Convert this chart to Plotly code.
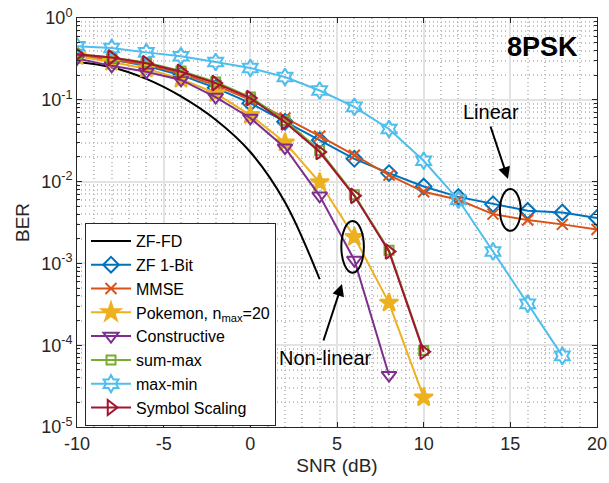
import plotly.graph_objects as go

snr = [-10, -8, -6, -4, -2, 0, 2, 4, 6, 8, 10, 12, 14, 16, 18, 20]

zf_fd_snr = [-10, -8, -6, -4, -2, 0, 2, 4]
zf_fd = [0.29, 0.25, 0.18, 0.11, 0.057, 0.023, 0.0056, 0.00064]

zf_1bit = [0.35, 0.31, 0.26, 0.20, 0.14, 0.091, 0.054, 0.032, 0.019, 0.0127,
           0.0087, 0.0065, 0.0053, 0.0044, 0.0042, 0.0036]
mmse = [0.35, 0.31, 0.27, 0.21, 0.15, 0.10, 0.060, 0.036, 0.021, 0.012,
        0.0075, 0.0060, 0.0040, 0.0034, 0.0030, 0.0026]

pok_snr = [-10, -8, -6, -4, -2, 0, 2, 4, 6, 8, 10]
pokemon = [0.34, 0.29, 0.24, 0.18, 0.12, 0.065, 0.030, 0.0098, 0.0021, 0.00033, 0.000023]

cons_snr = [-10, -8, -6, -4, -2, 0, 2, 4, 6, 8]
constructive = [0.32, 0.26, 0.22, 0.175, 0.108, 0.06, 0.026, 0.0067, 0.0011, 0.000043]

ss_snr = [-10, -8, -6, -4, -2, 0, 2, 4, 6, 8, 10]
sum_max = [0.36, 0.33, 0.285, 0.225, 0.165, 0.108, 0.056, 0.024, 0.0069, 0.00145, 0.000086]
symbol_scaling = [0.36, 0.33, 0.28, 0.22, 0.16, 0.105, 0.053, 0.023, 0.0067, 0.0014, 0.000083]

mm_snr = [-10, -8, -6, -4, -2, 0, 2, 4, 6, 8, 10, 12, 14, 16, 18]
max_min = [0.45, 0.43, 0.38, 0.34, 0.29, 0.245, 0.19, 0.13, 0.082, 0.044,
           0.018, 0.006, 0.0014, 0.00032, 0.000074]

ytick_vals = [1e-5, 1e-4, 1e-3, 1e-2, 1e-1, 1]
ytick_text = ["10<sup>-5</sup>", "10<sup>-4</sup>", "10<sup>-3</sup>",
              "10<sup>-2</sup>", "10<sup>-1</sup>", "10<sup>0</sup>"]
xtick_vals = [-10, -5, 0, 5, 10, 15, 20]
xtick_text = ["-10", "-5", "0", "5", "10", "15", "20"]

FONT = "Liberation Sans, Arial, sans-serif"
LW = 2

fig = go.Figure()

def add(x, y, name, color, symbol=None, size=11, shape="linear"):
    mode = "lines" if symbol is None else "lines+markers"
    marker = None
    if symbol is not None:
        marker = dict(symbol=symbol, size=size, color=color,
                      line=dict(color=color, width=2))
    fig.add_trace(go.Scatter(x=x, y=y, name=name, mode=mode,
                             line=dict(color=color, width=LW, shape=shape),
                             marker=marker))

add(zf_fd_snr, zf_fd, "ZF-FD", "#000000", shape="spline")
add(snr, zf_1bit, "ZF 1-Bit", "#0072BD", "diamond-open", 12)
add(snr, mmse, "MMSE", "#D95319", "x-thin-open", 11)
add(pok_snr, pokemon, "Pokemon, n<sub>max</sub>=20", "#EDB120", "star", 14)
add(cons_snr, constructive, "Constructive", "#7E2F8E", "triangle-down-open", 13)
add(ss_snr, sum_max, "sum-max", "#77AC30", "square-open", 9)
add(mm_snr, max_min, "max-min", "#4DBEEE", "hexagram-open", 13)
add(ss_snr, symbol_scaling, "Symbol Scaling", "#A2142F", "triangle-right-open", 13)

axis_common = dict(
    showline=True, linecolor="#262626", linewidth=1, mirror="ticks",
    ticks="inside", ticklen=5, tickcolor="#262626",
    showgrid=True, gridcolor="#e3e3e3", gridwidth=1.5,
    tickfont=dict(family=FONT, size=18, color="#262626"),
    zeroline=False, automargin=False,
)

fig.update_xaxes(range=[-10, 20], tickvals=xtick_vals, ticktext=xtick_text,
                 title=dict(text="SNR (dB)", font=dict(family=FONT, size=19, color="#262626"),
                            standoff=6),
                 minor=dict(dtick=1, showgrid=True, griddash="1px,3px", gridcolor="#c4c4c4",
                            ticks=""),
                 **axis_common)
fig.update_yaxes(type="log", range=[-5, 0], tickvals=ytick_vals, ticktext=ytick_text,
                 title=dict(text="BER", font=dict(family=FONT, size=19, color="#262626"),
                            standoff=6),
                 minor=dict(dtick="D1", showgrid=True, griddash="1px,3px", gridcolor="#c4c4c4",
                            ticks="inside", ticklen=3, tickcolor="#262626"),
                 **axis_common)

# Ellipses
fig.add_shape(type="circle", xref="x", yref="y", x0=14.4, x1=15.6, y0=0.0025, y1=0.0081,
              line=dict(color="black", width=2))
fig.add_shape(type="circle", xref="x", yref="y", x0=5.25, x1=6.55, y0=0.00077, y1=0.0033,
              line=dict(color="black", width=2))

def px2paper(px, py):
    return (px - 77) / 520.0, (427 - py) / 409.0

# Text annotations
tx, ty = px2paper(542, 47)
fig.add_annotation(x=tx, y=ty, xref="paper", yref="paper", text="<b>8PSK</b>",
                   xanchor="center", yanchor="middle",
                   showarrow=False, font=dict(family=FONT, size=27, color="black"))
tx, ty = px2paper(491, 112)
fig.add_annotation(x=tx, y=ty, xref="paper", yref="paper", text="Linear",
                   xanchor="center", yanchor="middle",
                   showarrow=False, font=dict(family=FONT, size=20, color="black"))
tx, ty = px2paper(325, 358)
fig.add_annotation(x=tx, y=ty, xref="paper", yref="paper", text="Non-linear",
                   xanchor="center", yanchor="middle",
                   showarrow=False, font=dict(family=FONT, size=20, color="black"))
# Arrows
hx, hy = px2paper(508, 179)
fig.add_annotation(x=hx, y=hy, xref="paper", yref="paper", text="", showarrow=True,
                   ax=490 - 508, ay=125 - 179, arrowhead=2, arrowsize=1.2,
                   arrowwidth=2, arrowcolor="black")
hx, hy = px2paper(342, 284)
fig.add_annotation(x=hx, y=hy, xref="paper", yref="paper", text="", showarrow=True,
                   ax=323 - 342, ay=342 - 284, arrowhead=2, arrowsize=1.2,
                   arrowwidth=2, arrowcolor="black")

lx, ly = px2paper(85, 223)
fig.update_layout(
    width=609, height=483,
    margin=dict(l=77, r=12, t=18, b=56),
    paper_bgcolor="white", plot_bgcolor="white",
    font=dict(family=FONT, size=18, color="#262626"),
    legend=dict(x=lx, y=ly, xanchor="left", yanchor="top",
                bgcolor="white", bordercolor="#262626", borderwidth=1,
                font=dict(family=FONT, size=16, color="black"),
                tracegroupgap=0, itemwidth=40),
    showlegend=True,
)

fig.write_html("out.html")
